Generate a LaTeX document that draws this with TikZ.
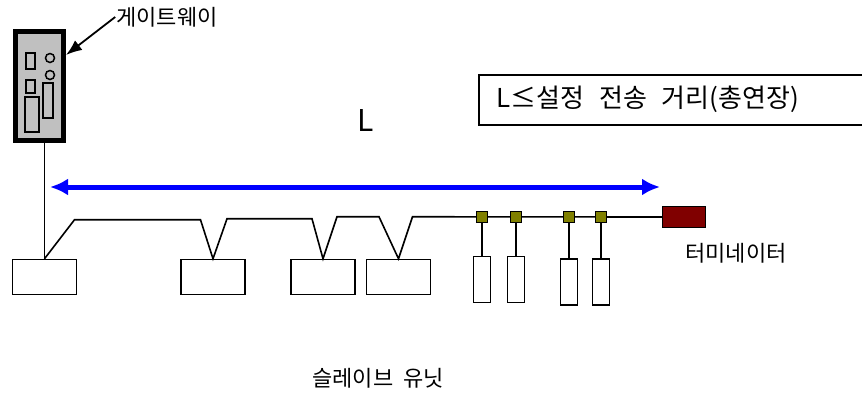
\documentclass[tikz,border=0pt]{standalone}
\usepackage{fontspec}
\setmainfont{Noto Sans CJK KR}
\usetikzlibrary{arrows.meta,positioning,calc}
\definecolor{taptone}{RGB}{128,128,0}
\definecolor{termtone}{RGB}{128,0,0}
\definecolor{gwtone}{RGB}{192,192,192}

\begin{document}
\begin{tikzpicture}[x=1pt,y=-1pt,
	slavebox/.style={draw,line width=1.5pt,minimum width=64pt,minimum height=35pt,inner sep=0pt},
	stubbox/.style={draw,line width=1.5pt,minimum width=17pt,minimum height=46pt,inner sep=0pt},
	tapbox/.style={draw,line width=1.5pt,fill=taptone,minimum size=11pt,inner sep=0pt},
	bus/.style={line width=1.6pt},
	gwpart/.style={draw,line width=1.5pt,fill=gwtone},
	labeltext/.style={font=\fontsize{22}{26}\selectfont,inner sep=1pt}]
	\useasboundingbox (0,0) rectangle (862,392);
	\node[draw,line width=5pt,fill=gwtone,minimum width=48pt,minimum height=109pt,inner sep=0pt] (gw) at (39.5,86) {};
	\draw[gwpart] (26,53) rectangle (35,69);
	\draw[gwpart] (50,58) circle (4.5);
	\draw[gwpart] (50,75) circle (4.5);
	\draw[gwpart] (26,80) rectangle (35,93);
	\draw[gwpart] (25,97) rectangle (39,132);
	\draw[gwpart] (43,83) rectangle (53,118);
	\node[labeltext] (gwname) at (167,17) {게이트웨이};
	\draw[line width=1.8pt,-{Latex[length=16pt,width=12pt]}] (gwname.west) -- ([yshift=-26pt]gw.north east);
	\node[slavebox] (s1) at (44.5,277) {};
	\node[slavebox] (s2) at (213,277) {};
	\node[slavebox] (s3) at (323,277) {};
	\node[slavebox] (s4) at (398.5,277) {};
	\node[draw,line width=1.5pt,fill=termtone,minimum width=43pt,minimum height=21pt,inner sep=0pt] (term) at (684,217) {};
	\draw[bus] (gw.south -| s1.north) -- (s1.north);
	\draw[bus] (s1.north) -- ++(30,-39) -- ++(126,0) -- (s2.north) -- ++(14,-40) -- ++(85,0) -- (s3.north) -- ++(14,-42) -- ++(42,0) -- (s4.north) -- ++(14,-42) -- (term.west);
	\foreach \n/\x in {1/482,2/516,3/569,4/601}
		\node[tapbox] (t\n) at (\x,217) {};
	\node[stubbox] (u1) at (482,279.5) {};
	\node[stubbox] (u2) at (516,279.5) {};
	\node[stubbox] (u3) at (569,282) {};
	\node[stubbox] (u4) at (601,282) {};
	\foreach \n in {1,...,4}
		\draw[bus] (t\n.south) -- (u\n.north);
	\coordinate (lstart) at (50,187);
	\coordinate (lend) at (660,187);
	\draw[blue,line width=5pt,{Latex[length=18pt,width=17pt]}-{Latex[length=18pt,width=17pt]}] (lstart) -- (lend);
	\node[font=\fontsize{30}{36}\selectfont] (lname) at (366,120) {L};
	\node[draw,line width=1.5pt,anchor=north west,minimum width=400pt,minimum height=50pt,inner xsep=18pt,text width=364pt,align=left,font=\fontsize{26}{30}\selectfont] (range) at (478,74) {L≤설정\hspace{6pt} 전송\hspace{6pt} 거리(총연장)};
	\node[labeltext] (termname) at (736,253) {터미네이터};
	\node[labeltext] (slavename) at (378,378) {슬레이브\hspace{5pt} 유닛};
\end{tikzpicture}
\end{document}
